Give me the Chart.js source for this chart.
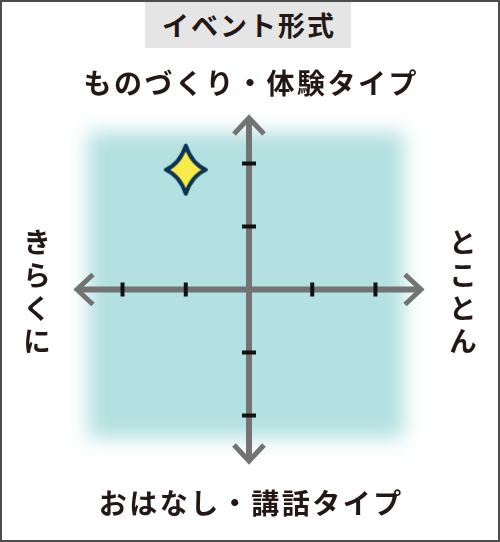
<!DOCTYPE html>
<html lang="ja">
<head>
<meta charset="utf-8">
<script src="https://cdn.jsdelivr.net/npm/chart.js@4.4.1/dist/chart.umd.min.js"></script>
<style>
  html, body { margin: 0; padding: 0; background: #fff; }
  #wrap { position: relative; width: 500px; height: 542px; overflow: hidden; font-family: "Noto Sans CJK JP", "Noto Sans", sans-serif; color: #231815; }
  #chart { position: absolute; left: 0; top: 0; }
  .frame { position: absolute; inset: 0; border: 2px solid #4d4d4d; pointer-events: none; }
  .label { position: absolute; font-size: 28px; font-weight: 600; white-space: nowrap; }
  .title { left: 145px; top: 2px; width: 206px; height: 46px; line-height: 46px; background: #e5e5e5; text-align: center; font-size: 27px; letter-spacing: 2px; padding-left: 2px; box-sizing: border-box; }
  .horiz { left: 0; width: 500px; height: 40px; line-height: 40px; text-align: center; letter-spacing: 2.5px; padding-left: 2.5px; box-sizing: border-box; }
  .vert { writing-mode: vertical-rl; top: 221px; height: 140px; width: 40px; line-height: 40px; text-align: center; letter-spacing: 5px; padding-top: 5px; box-sizing: border-box; }
</style>
</head>
<body>
<div id="wrap">
  <canvas id="chart" width="500" height="542"></canvas>
  <div class="label title" id="title"></div>
  <div class="label horiz" id="topLabel" style="top:62px"></div>
  <div class="label horiz" id="bottomLabel" style="top:482px"></div>
  <div class="label vert" id="leftLabel" style="left:17px"></div>
  <div class="label vert" id="rightLabel" style="left:443px"></div>
  <div class="frame"></div>
</div>
<script>
// data
const titleText = 'イベント形式';
const axisLabels = ['ものづくり・体験タイプ', 'おはなし・講話タイプ', 'きらくに', 'とことん'];
const pointX = [-1];
const pointY = [1.9];
const tickValues = [-2, -1, 1, 2];
const axisMax = 2.72;

document.getElementById('title').textContent = titleText;
document.getElementById('topLabel').textContent = axisLabels[0];
document.getElementById('bottomLabel').textContent = axisLabels[1];
document.getElementById('leftLabel').textContent = axisLabels[2];
document.getElementById('rightLabel').textContent = axisLabels[3];

const axisColor = '#737373';
const tickColor = '#111111';
const teal = 'rgb(179, 224, 224)';

// 4-point sparkle used as the point style
const makeStar = () => {
  const c = document.createElement('canvas');
  c.width = 50;
  c.height = 58;
  const ctx = c.getContext('2d');
  const cx = 25, cy = 29, w = 20, h = 24, k = 6;
  ctx.beginPath();
  ctx.moveTo(cx, cy - h);
  ctx.quadraticCurveTo(cx + k, cy - k, cx + w, cy);
  ctx.quadraticCurveTo(cx + k, cy + k, cx, cy + h);
  ctx.quadraticCurveTo(cx - k, cy + k, cx - w, cy);
  ctx.quadraticCurveTo(cx - k, cy - k, cx, cy - h);
  ctx.closePath();
  ctx.fillStyle = '#f8ea48';
  ctx.fill();
  ctx.lineWidth = 4;
  ctx.lineJoin = 'round';
  ctx.strokeStyle = '#0d3457';
  ctx.stroke();
  return c;
}

const softBackground = {
  id: 'softBackground',
  beforeDatasetsDraw(chart) {
    const ctx = chart.ctx;
    ctx.save();
    ctx.filter = 'blur(10px)';
    ctx.fillStyle = teal;
    ctx.fillRect(88, 132, 316, 306);
    ctx.restore();
  }
}

const crossAxes = {
  id: 'crossAxes',
  beforeDatasetsDraw(chart) {
    const ctx = chart.ctx;
    const xs = chart.scales.x;
    const ys = chart.scales.y;
    const ox = xs.getPixelForValue(0);
    const oy = ys.getPixelForValue(0);
    const l = xs.getPixelForValue(-axisMax), r = xs.getPixelForValue(axisMax);
    const t = ys.getPixelForValue(axisMax), b = ys.getPixelForValue(-axisMax);
    ctx.save();
    ctx.strokeStyle = axisColor;
    ctx.lineWidth = 6;
    ctx.beginPath();
    ctx.moveTo(l, oy); ctx.lineTo(r, oy);
    ctx.moveTo(ox, t); ctx.lineTo(ox, b);
    ctx.stroke();
    ctx.lineWidth = 5;
    ctx.lineJoin = 'miter';
    const a = 16, s = 15;
    ctx.beginPath();
    ctx.moveTo(ox - s, t + a); ctx.lineTo(ox, t); ctx.lineTo(ox + s, t + a);
    ctx.moveTo(ox - s, b - a); ctx.lineTo(ox, b); ctx.lineTo(ox + s, b - a);
    ctx.moveTo(l + a, oy - s); ctx.lineTo(l, oy); ctx.lineTo(l + a, oy + s);
    ctx.moveTo(r - a, oy - s); ctx.lineTo(r, oy); ctx.lineTo(r - a, oy + s);
    ctx.stroke();
    ctx.strokeStyle = tickColor;
    ctx.lineWidth = 4;
    ctx.beginPath();
    tickValues.forEach(v => {
      const px = xs.getPixelForValue(v);
      ctx.moveTo(px, oy - 7); ctx.lineTo(px, oy + 7);
      const py = ys.getPixelForValue(v);
      ctx.moveTo(ox - 7, py); ctx.lineTo(ox + 7, py);
    });
    ctx.stroke();
    ctx.restore();
  }
}

new Chart(document.getElementById('chart').getContext('2d'), {
  type: 'scatter',
  data: {
    datasets: [{
      data: pointX.map((x, i) => ({ x: x, y: pointY[i] })),
      pointStyle: makeStar(),
      pointRadius: 25,
    }]
  },
  options: {
    responsive: false,
    animation: false,
    devicePixelRatio: 1,
    layout: { padding: { left: 77, right: 79, top: 118, bottom: 81 } },
    scales: {
      x: { type: 'linear', min: -axisMax, max: axisMax, display: false },
      y: { type: 'linear', min: -axisMax, max: axisMax, display: false },
    },
    plugins: {
      legend: { display: false },
      tooltip: { enabled: false },
    }
  },
  plugins: [softBackground, crossAxes]
});
</script>
</body>
</html>
